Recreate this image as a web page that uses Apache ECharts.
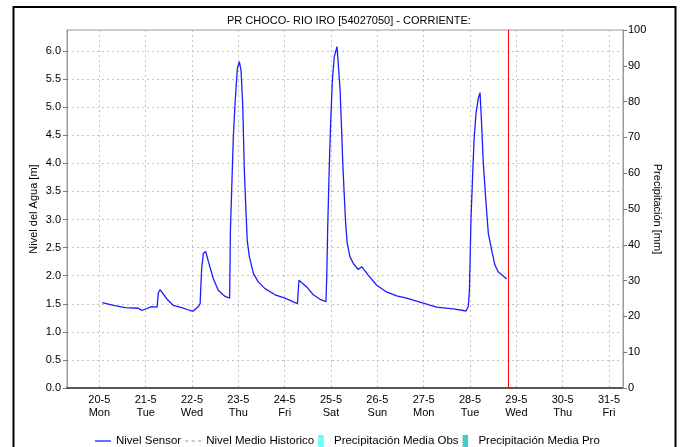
<!DOCTYPE html>
<html>
<head>
<meta charset="utf-8">
<script src="https://cdn.jsdelivr.net/npm/echarts@6/dist/echarts.min.js"></script>
<style>
html,body{margin:0;padding:0;background:#fff;}
#chart{width:682px;height:447px;}
</style>
</head>
<body>
<div id="chart"></div>
<script>
// Hours since 20-5 00:00
var horas = [1.5, 7.4, 13.3, 20.2, 22.0, 27.1, 29.9, 30.6, 31.4, 34.9, 38.3, 42.7, 47.0, 48.7, 51.3, 52.2, 53.0, 53.9, 55.1, 56.5, 59.0, 61.6, 65.1, 67.5,
  67.9, 68.6, 69.4, 70.3, 71.5, 72.5, 73.4, 74.3, 75.1, 76.0, 76.6, 77.7, 79.8, 82.3, 85.8, 91.0, 96.2, 101.4, 102.6, 103.4, 107.4, 110.8, 114.3, 117.4,
  117.8, 118.3, 119.1, 119.8, 120.7, 121.7, 123.1, 124.0, 124.7, 125.5, 126.1, 126.9, 127.6, 128.4, 129.8, 131.5, 134.1, 135.9, 139.3, 143.7, 148.8,
  154.0, 159.2, 167.8, 174.7, 183.3, 188.5, 189.9, 191.1, 191.7, 192.5, 193.4, 194.1, 195.1, 196.3, 197.2, 198.0, 198.9, 200.3, 201.5, 203.2, 204.9,
  206.6, 211.0];
var nivel = [1.52, 1.47, 1.43, 1.42, 1.38, 1.45, 1.44, 1.70, 1.75, 1.59, 1.47, 1.43, 1.38, 1.37, 1.45, 1.50, 2.13, 2.40, 2.43, 2.25, 1.95, 1.74, 1.63, 1.60,
  2.81, 3.58, 4.47, 5.07, 5.69, 5.81, 5.66, 5.01, 3.88, 3.11, 2.63, 2.34, 2.04, 1.89, 1.77, 1.66, 1.60, 1.52, 1.50, 1.92, 1.80, 1.66, 1.58, 1.54,
  1.98, 2.87, 3.94, 4.71, 5.48, 5.90, 6.08, 5.66, 5.31, 4.59, 4.00, 3.41, 2.93, 2.58, 2.34, 2.22, 2.11, 2.16, 2.01, 1.83, 1.71,
  1.64, 1.60, 1.51, 1.44, 1.41, 1.38, 1.37, 1.45, 1.74, 2.99, 3.82, 4.42, 4.89, 5.16, 5.26, 4.71, 4.00, 3.29, 2.75, 2.46, 2.19,
  2.07, 1.94];
var fechas = ['20-5','21-5','22-5','23-5','24-5','25-5','26-5','27-5','28-5','29-5','30-5','31-5'];
var diasSemana = ['Mon','Tue','Wed','Thu','Fri','Sat','Sun','Mon','Tue','Wed','Thu','Fri'];
var horaActual = 211.8;
var nivelTicks = [0,0.5,1,1.5,2,2.5,3,3.5,4,4.5,5,5.5,6];

var serieNivel = horas.map(function(h, i){ return [h, nivel[i]]; });
var tickHoras = fechas.map(function(f, i){ return i * 24; });

var chart = echarts.init(document.getElementById('chart'), null, {renderer:'canvas'});
var FONT = '"Liberation Sans", Arial, sans-serif';
var NARROW = '"Liberation Sans Narrow", "Liberation Sans", sans-serif';
var gridColor = '#c4c4c4';
chart.setOption({
  animation: false,
  backgroundColor: '#fff',
  title: {
    text: 'PR CHOCO- RIO IRO [54027050] - CORRIENTE:',
    left: 222, top: 10,
    textStyle: {fontFamily: FONT, fontSize: 11, fontWeight: 'normal', color: '#000'}
  },
  graphic: [{
    type: 'rect', z: 100, silent: true,
    shape: {x: 13.5, y: 7, width: 662, height: 500},
    style: {fill: null, stroke: '#000', lineWidth: 2}
  }],
  grid: {left: 67, right: 59, top: 30, bottom: 59, show: true, borderColor: '#999', borderWidth: 1, backgroundColor: '#fff'},
  legend: {
    left: 90, top: 430,
    itemWidth: 16, itemHeight: 12, itemGap: 4,
    textStyle: {fontFamily: FONT, fontSize: 11.5, color: '#000'},
    data: [
      {name: 'Nivel Sensor', icon: 'path://M0,0H16V1.3H0Z'},
      {name: 'Nivel Medio Historico', icon: 'path://M0,0H3V1.3H0Z M6,0H9V1.3H6Z M12,0H15V1.3H12Z'},
      {name: 'Precipitación Media Obs', icon: 'path://M0,0H6V13H0Z'},
      {name: 'Precipitación Media Pro', icon: 'path://M0,0H6V13H0Z'}
    ]
  },
  xAxis: {
    type: 'value', min: -16.75, max: 271.25,
    axisLine: {show: true, onZero: false, lineStyle: {color: '#555', width: 2, type: [1, 1]}},
    axisTick: {show: false, customValues: tickHoras},
    axisLabel: {
      customValues: tickHoras,
      fontFamily: NARROW, fontSize: 11, color: '#000',
      lineHeight: 13, margin: 5,
      formatter: function(v){ var i = Math.round(v / 24); return fechas[i] + '\n' + diasSemana[i]; }
    },
    splitLine: {show: true, lineStyle: {color: gridColor, type: [2, 3], width: 1}}
  },
  yAxis: [{
    type: 'value', min: 0, max: 6.375, interval: 0.5,
    name: 'Nivel del Agua [m]', nameLocation: 'middle', nameGap: 28, nameRotate: 90, nameMoveOverlap: false,
    nameTextStyle: {fontFamily: FONT, fontSize: 11, color: '#000'},
    axisLine: {show: true, onZero: false, lineStyle: {color: '#999', width: 1}},
    axisTick: {show: true, length: 4, lineStyle: {color: '#777'}, customValues: nivelTicks},
    axisLabel: {
      customValues: nivelTicks,
      fontFamily: NARROW, fontSize: 11, color: '#000', margin: 6,
      formatter: function(v){ return v.toFixed(1); }
    },
    splitLine: {show: true, lineStyle: {color: gridColor, type: [2, 3], width: 1}}
  }, {
    type: 'value', min: 0, max: 100, interval: 10,
    name: 'Precipitación [mm]', nameLocation: 'middle', nameGap: 29, nameRotate: -90, nameMoveOverlap: false,
    nameTextStyle: {fontFamily: FONT, fontSize: 11, color: '#000'},
    axisLine: {show: true, onZero: false, lineStyle: {color: '#999', width: 1}},
    axisTick: {show: true, length: 4, lineStyle: {color: '#777'}},
    axisLabel: {fontFamily: NARROW, fontSize: 11, color: '#000', margin: 5},
    splitLine: {show: false}
  }],
  series: [{
    name: 'Nivel Sensor', type: 'line', data: serieNivel,
    showSymbol: false, symbol: 'none',
    lineStyle: {color: '#1c1cff', width: 1.3},
    itemStyle: {color: '#1c1cff'},
    markLine: {
      silent: true, symbol: 'none', label: {show: false},
      lineStyle: {color: '#ff0000', width: 1, type: 'solid'},
      data: [{xAxis: horaActual}]
    },
    z: 5
  }, {
    name: 'Nivel Medio Historico', type: 'line', data: [],
    symbol: 'none',
    lineStyle: {color: '#bbbbbb', width: 1.5, type: [3, 3]},
    itemStyle: {color: '#bbbbbb'}
  }, {
    name: 'Precipitación Media Obs', type: 'bar', yAxisIndex: 1, data: [],
    itemStyle: {color: '#66ffff'}
  }, {
    name: 'Precipitación Media Pro', type: 'bar', yAxisIndex: 1, data: [],
    itemStyle: {color: '#44cccc'}
  }]
});
</script>
</body>
</html>
